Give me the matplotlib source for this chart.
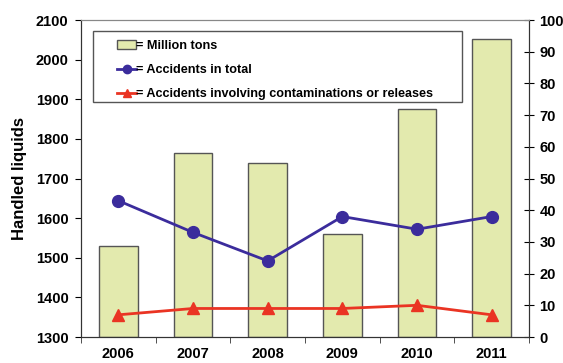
import numpy as np
import matplotlib
matplotlib.use('Agg')
import matplotlib.pyplot as plt
from matplotlib.patches import Rectangle

plt.rcParams['font.family'] = ['Liberation Sans', 'DejaVu Sans']
plt.rcParams['font.weight'] = 'bold'

years = ['2006', '2007', '2008', '2009', '2010', '2011']
million_tons = [1530, 1765, 1740, 1560, 1875, 2052]
accidents_total = [43, 33, 24, 38, 34, 38]
accidents_release = [7, 9, 9, 9, 10, 7]

x = np.arange(len(years))

fig = plt.figure(figsize=(5.63, 3.63), dpi=100)
ax = fig.add_axes([0.1439, 0.0716, 0.7957, 0.8733])
ax2 = ax.twinx()

bars = ax.bar(x, np.array(million_tons) - 1300, bottom=1300, width=0.52,
              color='#e3eaae', edgecolor='#555555', linewidth=1.0, zorder=2)
ax.set_ylim(1300, 2100)
ax.set_xlim(-0.5, len(years) - 0.5)
ax.set_yticks(range(1300, 2101, 100))
ax.set_xticks(x)
ax.set_xticklabels(years)
ax.set_xticks(np.arange(-0.5, len(years), 1), minor=True)
ax.tick_params(axis='x', which='major', length=0, pad=7, labelsize=10.5)
ax.tick_params(axis='x', which='minor', length=4, direction='out', color='#333333')
ax.tick_params(axis='y', length=4, direction='out', labelsize=10.5, pad=5)
ax.set_ylabel('Handled liquids', fontsize=12, fontweight='bold', labelpad=6)

l1, = ax2.plot(x, accidents_total, color='#3b2c9c', lw=2, marker='o',
               markersize=8.5, zorder=3)
l2, = ax2.plot(x, accidents_release, color='#ea3423', lw=2, marker='^',
               markersize=8.5, zorder=3)
ax2.set_ylim(0, 100)
ax2.set_yticks(range(0, 101, 10))
ax2.tick_params(axis='y', length=7, direction='inout', labelsize=10.5, pad=4)

for a in (ax, ax2):
    a.spines['top'].set_color('#888888')
    a.spines['left'].set_color('#333333')
    a.spines['right'].set_color('#333333')
    a.spines['bottom'].set_color('#333333')

# legend entries without their own frame; a wider box is drawn around them
leg = ax2.legend([bars, l1, l2],
                 ['= Million tons', '= Accidents in total',
                  '= Accidents involving contaminations or releases'],
                 loc='upper left', bbox_to_anchor=(0.072, 0.948),
                 fontsize=9.1, frameon=False,
                 handlelength=1.5, handletextpad=0.0, borderpad=0.3,
                 labelspacing=0.94, borderaxespad=0)
for h in leg.legend_handles[1:]:
    h.set_markersize(6)
fig.patches.append(Rectangle((93 / 563, 1 - 102 / 363), 369 / 563, 71 / 363,
                             transform=fig.transFigure, fill=False,
                             edgecolor='#555555', lw=1.0))

fig.savefig('out.png', dpi=100)
